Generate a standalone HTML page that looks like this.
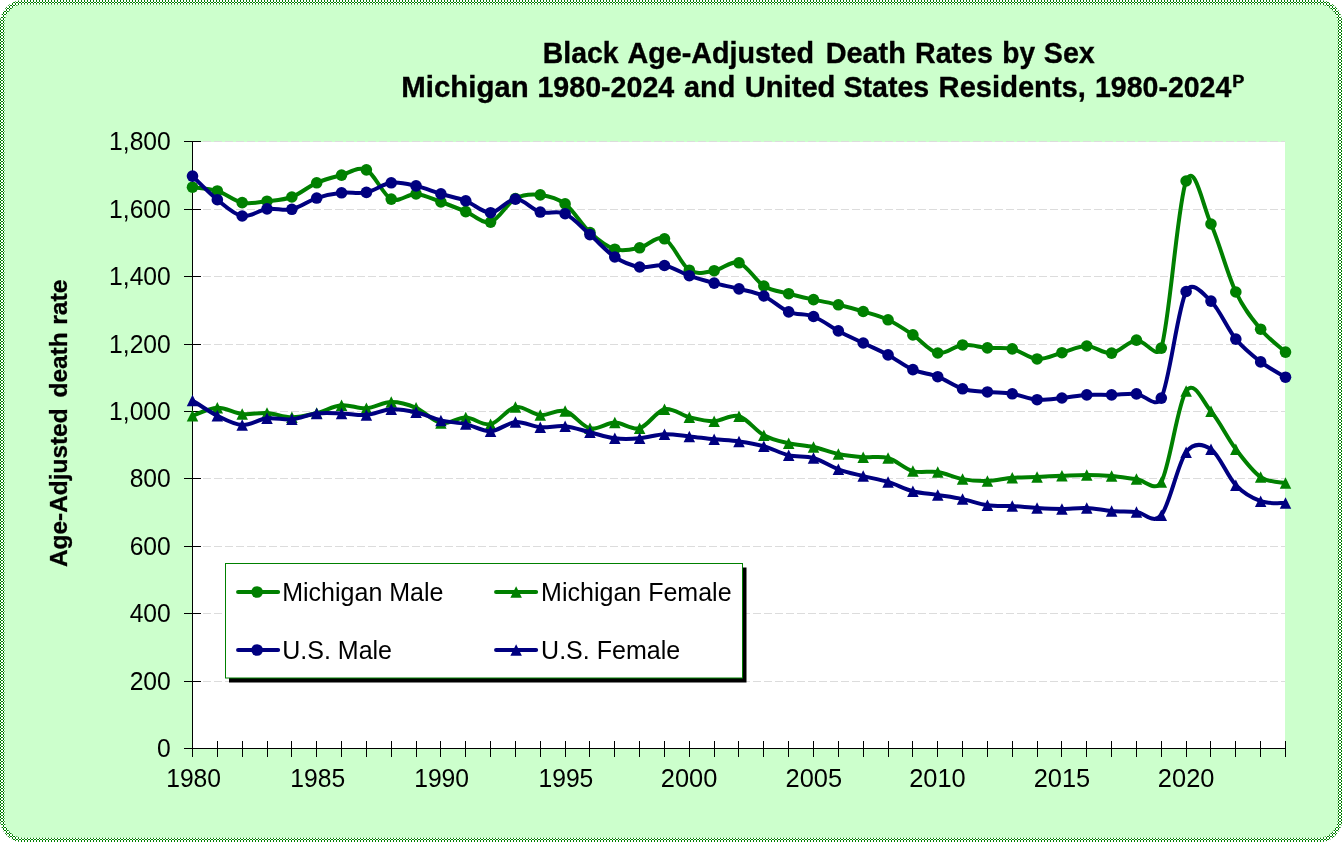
<!DOCTYPE html><html><head><meta charset="utf-8"><title>Black Age-Adjusted Death Rates by Sex</title>
<style>html,body{margin:0;padding:0;background:#fff;}body{width:1342px;height:842px;overflow:hidden;}svg{display:block;will-change:transform;}text{font-family:"Liberation Sans",sans-serif;fill:#000;}</style></head><body>
<svg width="1342" height="842" viewBox="0 0 1342 842">
<defs><pattern id="chk" x="0" y="0" width="3" height="3" patternUnits="userSpaceOnUse"><rect width="3" height="3" fill="#fff"/><rect x="0" y="0" width="1" height="2" fill="#008000" shape-rendering="crispEdges"/><rect x="1" y="2" width="2" height="1" fill="#008000" shape-rendering="crispEdges"/></pattern></defs>
<rect x="2.25" y="2.25" width="1337.75" height="837.75" rx="21" ry="21" fill="#CCFFCC" stroke="url(#chk)" stroke-width="4.5"/>
<rect x="193" y="142" width="1092" height="606" fill="#fff"/>
<line x1="203" y1="681.5" x2="1285" y2="681.5" stroke="#DCDCDC" stroke-width="1" stroke-dasharray="8 3"/>
<line x1="203" y1="613.5" x2="1285" y2="613.5" stroke="#DCDCDC" stroke-width="1" stroke-dasharray="8 3"/>
<line x1="203" y1="546.5" x2="1285" y2="546.5" stroke="#DCDCDC" stroke-width="1" stroke-dasharray="8 3"/>
<line x1="203" y1="478.5" x2="1285" y2="478.5" stroke="#DCDCDC" stroke-width="1" stroke-dasharray="8 3"/>
<line x1="203" y1="411.5" x2="1285" y2="411.5" stroke="#DCDCDC" stroke-width="1" stroke-dasharray="8 3"/>
<line x1="203" y1="344.5" x2="1285" y2="344.5" stroke="#DCDCDC" stroke-width="1" stroke-dasharray="8 3"/>
<line x1="203" y1="276.5" x2="1285" y2="276.5" stroke="#DCDCDC" stroke-width="1" stroke-dasharray="8 3"/>
<line x1="203" y1="209.5" x2="1285" y2="209.5" stroke="#DCDCDC" stroke-width="1" stroke-dasharray="8 3"/>
<line x1="203" y1="141.5" x2="1285" y2="141.5" stroke="#DCDCDC" stroke-width="1" stroke-dasharray="8 3"/>
<g stroke="#000" stroke-width="1" shape-rendering="crispEdges">
<line x1="192.5" y1="141" x2="192.5" y2="757"/>
<line x1="184" y1="748.5" x2="1286" y2="748.5"/>
<line x1="184" y1="681.5" x2="201" y2="681.5"/>
<line x1="184" y1="613.5" x2="201" y2="613.5"/>
<line x1="184" y1="546.5" x2="201" y2="546.5"/>
<line x1="184" y1="478.5" x2="201" y2="478.5"/>
<line x1="184" y1="411.5" x2="201" y2="411.5"/>
<line x1="184" y1="344.5" x2="201" y2="344.5"/>
<line x1="184" y1="276.5" x2="201" y2="276.5"/>
<line x1="184" y1="209.5" x2="201" y2="209.5"/>
<line x1="184" y1="141.5" x2="201" y2="141.5"/>
<line x1="217.5" y1="741" x2="217.5" y2="757"/>
<line x1="242.5" y1="741" x2="242.5" y2="757"/>
<line x1="267.5" y1="741" x2="267.5" y2="757"/>
<line x1="291.5" y1="741" x2="291.5" y2="757"/>
<line x1="316.5" y1="741" x2="316.5" y2="757"/>
<line x1="341.5" y1="741" x2="341.5" y2="757"/>
<line x1="366.5" y1="741" x2="366.5" y2="757"/>
<line x1="391.5" y1="741" x2="391.5" y2="757"/>
<line x1="416.5" y1="741" x2="416.5" y2="757"/>
<line x1="440.5" y1="741" x2="440.5" y2="757"/>
<line x1="465.5" y1="741" x2="465.5" y2="757"/>
<line x1="490.5" y1="741" x2="490.5" y2="757"/>
<line x1="515.5" y1="741" x2="515.5" y2="757"/>
<line x1="540.5" y1="741" x2="540.5" y2="757"/>
<line x1="565.5" y1="741" x2="565.5" y2="757"/>
<line x1="589.5" y1="741" x2="589.5" y2="757"/>
<line x1="614.5" y1="741" x2="614.5" y2="757"/>
<line x1="639.5" y1="741" x2="639.5" y2="757"/>
<line x1="664.5" y1="741" x2="664.5" y2="757"/>
<line x1="689.5" y1="741" x2="689.5" y2="757"/>
<line x1="714.5" y1="741" x2="714.5" y2="757"/>
<line x1="738.5" y1="741" x2="738.5" y2="757"/>
<line x1="763.5" y1="741" x2="763.5" y2="757"/>
<line x1="788.5" y1="741" x2="788.5" y2="757"/>
<line x1="813.5" y1="741" x2="813.5" y2="757"/>
<line x1="838.5" y1="741" x2="838.5" y2="757"/>
<line x1="863.5" y1="741" x2="863.5" y2="757"/>
<line x1="888.5" y1="741" x2="888.5" y2="757"/>
<line x1="912.5" y1="741" x2="912.5" y2="757"/>
<line x1="937.5" y1="741" x2="937.5" y2="757"/>
<line x1="962.5" y1="741" x2="962.5" y2="757"/>
<line x1="987.5" y1="741" x2="987.5" y2="757"/>
<line x1="1012.5" y1="741" x2="1012.5" y2="757"/>
<line x1="1037.5" y1="741" x2="1037.5" y2="757"/>
<line x1="1061.5" y1="741" x2="1061.5" y2="757"/>
<line x1="1086.5" y1="741" x2="1086.5" y2="757"/>
<line x1="1111.5" y1="741" x2="1111.5" y2="757"/>
<line x1="1136.5" y1="741" x2="1136.5" y2="757"/>
<line x1="1161.5" y1="741" x2="1161.5" y2="757"/>
<line x1="1186.5" y1="741" x2="1186.5" y2="757"/>
<line x1="1210.5" y1="741" x2="1210.5" y2="757"/>
<line x1="1235.5" y1="741" x2="1235.5" y2="757"/>
<line x1="1260.5" y1="741" x2="1260.5" y2="757"/>
<line x1="1285.5" y1="741" x2="1285.5" y2="757"/>
</g>
<path d="M192.50 187.20 C196.64 187.82 209.06 188.38 217.34 190.95 C225.62 193.52 233.90 200.94 242.18 202.65 C250.46 204.36 258.74 202.14 267.02 201.20 C275.30 200.26 283.58 200.07 291.86 197.00 C300.14 193.93 308.42 186.45 316.70 182.80 C324.98 179.15 333.27 177.26 341.55 175.10 C349.83 172.94 358.11 165.85 366.39 169.85 C374.67 173.85 382.95 195.09 391.23 199.10 C399.51 203.11 407.79 193.42 416.07 193.90 C424.35 194.38 432.63 199.05 440.91 202.00 C449.19 204.95 457.47 208.25 465.75 211.60 C474.03 214.95 482.31 224.28 490.59 222.10 C498.87 219.92 507.15 203.03 515.43 198.50 C523.71 193.97 531.99 194.00 540.27 194.90 C548.55 195.80 556.83 197.63 565.11 203.90 C573.39 210.17 581.67 224.95 589.95 232.50 C598.23 240.05 606.52 246.65 614.80 249.20 C623.08 251.75 631.36 249.53 639.64 247.80 C647.92 246.07 656.20 235.07 664.48 238.80 C672.76 242.53 681.04 264.88 689.32 270.20 C697.60 275.52 705.88 271.93 714.16 270.70 C722.44 269.47 730.72 260.25 739.00 262.80 C747.28 265.35 755.56 280.85 763.84 286.00 C772.12 291.15 780.40 291.43 788.68 293.70 C796.96 295.97 805.24 297.75 813.52 299.60 C821.80 301.45 830.08 302.82 838.36 304.80 C846.64 306.78 854.92 309.00 863.20 311.50 C871.48 314.00 879.77 315.90 888.05 319.80 C896.33 323.70 904.61 329.37 912.89 334.90 C921.17 340.43 929.45 351.32 937.73 353.00 C946.01 354.68 954.29 345.80 962.57 344.95 C970.85 344.10 979.13 347.24 987.41 347.90 C995.69 348.56 1003.97 347.06 1012.25 348.90 C1020.53 350.74 1028.81 358.32 1037.09 358.95 C1045.37 359.58 1053.65 354.86 1061.93 352.70 C1070.21 350.54 1078.49 345.93 1086.77 346.00 C1095.05 346.07 1103.33 354.08 1111.61 353.10 C1119.89 352.12 1128.17 340.98 1136.45 340.15 C1144.73 339.32 1157.41 360.55 1161.30 348.10 C1169.58 321.58 1177.86 201.68 1186.14 181.00 C1194.42 160.32 1202.70 205.50 1210.98 224.00 C1219.26 242.50 1227.54 274.47 1235.82 292.00 C1244.10 309.53 1252.38 319.18 1260.66 329.20 C1268.94 339.22 1281.36 348.28 1285.50 352.10" fill="none" stroke="#008000" stroke-width="4" stroke-linejoin="round" stroke-linecap="round"/>
<circle cx="192.50" cy="187.20" r="5.8" fill="#008000"/><circle cx="217.34" cy="190.95" r="5.8" fill="#008000"/><circle cx="242.18" cy="202.65" r="5.8" fill="#008000"/><circle cx="267.02" cy="201.20" r="5.8" fill="#008000"/><circle cx="291.86" cy="197.00" r="5.8" fill="#008000"/><circle cx="316.70" cy="182.80" r="5.8" fill="#008000"/><circle cx="341.55" cy="175.10" r="5.8" fill="#008000"/><circle cx="366.39" cy="169.85" r="5.8" fill="#008000"/><circle cx="391.23" cy="199.10" r="5.8" fill="#008000"/><circle cx="416.07" cy="193.90" r="5.8" fill="#008000"/><circle cx="440.91" cy="202.00" r="5.8" fill="#008000"/><circle cx="465.75" cy="211.60" r="5.8" fill="#008000"/><circle cx="490.59" cy="222.10" r="5.8" fill="#008000"/><circle cx="515.43" cy="198.50" r="5.8" fill="#008000"/><circle cx="540.27" cy="194.90" r="5.8" fill="#008000"/><circle cx="565.11" cy="203.90" r="5.8" fill="#008000"/><circle cx="589.95" cy="232.50" r="5.8" fill="#008000"/><circle cx="614.80" cy="249.20" r="5.8" fill="#008000"/><circle cx="639.64" cy="247.80" r="5.8" fill="#008000"/><circle cx="664.48" cy="238.80" r="5.8" fill="#008000"/><circle cx="689.32" cy="270.20" r="5.8" fill="#008000"/><circle cx="714.16" cy="270.70" r="5.8" fill="#008000"/><circle cx="739.00" cy="262.80" r="5.8" fill="#008000"/><circle cx="763.84" cy="286.00" r="5.8" fill="#008000"/><circle cx="788.68" cy="293.70" r="5.8" fill="#008000"/><circle cx="813.52" cy="299.60" r="5.8" fill="#008000"/><circle cx="838.36" cy="304.80" r="5.8" fill="#008000"/><circle cx="863.20" cy="311.50" r="5.8" fill="#008000"/><circle cx="888.05" cy="319.80" r="5.8" fill="#008000"/><circle cx="912.89" cy="334.90" r="5.8" fill="#008000"/><circle cx="937.73" cy="353.00" r="5.8" fill="#008000"/><circle cx="962.57" cy="344.95" r="5.8" fill="#008000"/><circle cx="987.41" cy="347.90" r="5.8" fill="#008000"/><circle cx="1012.25" cy="348.90" r="5.8" fill="#008000"/><circle cx="1037.09" cy="358.95" r="5.8" fill="#008000"/><circle cx="1061.93" cy="352.70" r="5.8" fill="#008000"/><circle cx="1086.77" cy="346.00" r="5.8" fill="#008000"/><circle cx="1111.61" cy="353.10" r="5.8" fill="#008000"/><circle cx="1136.45" cy="340.15" r="5.8" fill="#008000"/><circle cx="1161.30" cy="348.10" r="5.8" fill="#008000"/><circle cx="1186.14" cy="181.00" r="5.8" fill="#008000"/><circle cx="1210.98" cy="224.00" r="5.8" fill="#008000"/><circle cx="1235.82" cy="292.00" r="5.8" fill="#008000"/><circle cx="1260.66" cy="329.20" r="5.8" fill="#008000"/><circle cx="1285.50" cy="352.10" r="5.8" fill="#008000"/>
<path d="M192.50 415.80 C196.64 414.47 209.06 408.10 217.34 407.80 C225.62 407.50 233.90 413.13 242.18 414.00 C250.46 414.87 258.74 412.45 267.02 413.00 C275.30 413.55 283.58 417.30 291.86 417.30 C300.14 417.30 308.42 415.00 316.70 413.00 C324.98 411.00 333.27 406.08 341.55 405.30 C349.83 404.52 358.11 408.85 366.39 408.30 C374.67 407.75 382.95 402.08 391.23 402.00 C399.51 401.92 407.79 404.30 416.07 407.80 C424.35 411.30 432.63 421.37 440.91 423.00 C449.19 424.63 457.47 417.40 465.75 417.60 C474.03 417.80 482.31 425.97 490.59 424.20 C498.87 422.43 507.15 408.52 515.43 407.00 C523.71 405.48 531.99 414.43 540.27 415.10 C548.55 415.77 556.83 408.80 565.11 411.00 C573.39 413.20 581.67 426.38 589.95 428.30 C598.23 430.22 606.52 422.52 614.80 422.50 C623.08 422.48 631.36 430.42 639.64 428.20 C647.92 425.98 656.20 411.03 664.48 409.20 C672.76 407.37 681.04 415.20 689.32 417.20 C697.60 419.20 705.88 421.37 714.16 421.20 C722.44 421.03 730.72 413.87 739.00 416.20 C747.28 418.53 755.56 430.70 763.84 435.20 C772.12 439.70 780.40 441.23 788.68 443.20 C796.96 445.17 805.24 445.20 813.52 447.00 C821.80 448.80 830.08 452.30 838.36 454.00 C846.64 455.70 854.92 456.53 863.20 457.20 C871.48 457.87 879.77 455.68 888.05 458.00 C896.33 460.32 904.61 468.77 912.89 471.10 C921.17 473.43 929.45 470.67 937.73 472.00 C946.01 473.33 954.29 477.60 962.57 479.10 C970.85 480.60 979.13 481.22 987.41 481.00 C995.69 480.78 1003.97 478.48 1012.25 477.80 C1020.53 477.12 1028.81 477.23 1037.09 476.90 C1045.37 476.57 1053.65 476.13 1061.93 475.80 C1070.21 475.47 1078.49 474.85 1086.77 474.90 C1095.05 474.95 1103.33 475.40 1111.61 476.10 C1119.89 476.80 1128.17 478.13 1136.45 479.10 C1144.73 480.07 1155.15 492.78 1161.30 481.90 C1169.58 467.23 1177.86 402.87 1186.14 391.10 C1194.42 379.33 1202.70 401.62 1210.98 411.30 C1219.26 420.98 1227.54 438.19 1235.82 449.15 C1244.10 460.11 1252.38 471.41 1260.66 477.05 C1268.94 482.69 1281.36 482.01 1285.50 483.00" fill="none" stroke="#008000" stroke-width="4" stroke-linejoin="round" stroke-linecap="round"/>
<path d="M192.50 410.05 L186.75 421.55 L198.25 421.55 Z" fill="#008000"/><path d="M217.34 402.05 L211.59 413.55 L223.09 413.55 Z" fill="#008000"/><path d="M242.18 408.25 L236.43 419.75 L247.93 419.75 Z" fill="#008000"/><path d="M267.02 407.25 L261.27 418.75 L272.77 418.75 Z" fill="#008000"/><path d="M291.86 411.55 L286.11 423.05 L297.61 423.05 Z" fill="#008000"/><path d="M316.70 407.25 L310.95 418.75 L322.45 418.75 Z" fill="#008000"/><path d="M341.55 399.55 L335.80 411.05 L347.30 411.05 Z" fill="#008000"/><path d="M366.39 402.55 L360.64 414.05 L372.14 414.05 Z" fill="#008000"/><path d="M391.23 396.25 L385.48 407.75 L396.98 407.75 Z" fill="#008000"/><path d="M416.07 402.05 L410.32 413.55 L421.82 413.55 Z" fill="#008000"/><path d="M440.91 417.25 L435.16 428.75 L446.66 428.75 Z" fill="#008000"/><path d="M465.75 411.85 L460.00 423.35 L471.50 423.35 Z" fill="#008000"/><path d="M490.59 418.45 L484.84 429.95 L496.34 429.95 Z" fill="#008000"/><path d="M515.43 401.25 L509.68 412.75 L521.18 412.75 Z" fill="#008000"/><path d="M540.27 409.35 L534.52 420.85 L546.02 420.85 Z" fill="#008000"/><path d="M565.11 405.25 L559.36 416.75 L570.86 416.75 Z" fill="#008000"/><path d="M589.95 422.55 L584.20 434.05 L595.70 434.05 Z" fill="#008000"/><path d="M614.80 416.75 L609.05 428.25 L620.55 428.25 Z" fill="#008000"/><path d="M639.64 422.45 L633.89 433.95 L645.39 433.95 Z" fill="#008000"/><path d="M664.48 403.45 L658.73 414.95 L670.23 414.95 Z" fill="#008000"/><path d="M689.32 411.45 L683.57 422.95 L695.07 422.95 Z" fill="#008000"/><path d="M714.16 415.45 L708.41 426.95 L719.91 426.95 Z" fill="#008000"/><path d="M739.00 410.45 L733.25 421.95 L744.75 421.95 Z" fill="#008000"/><path d="M763.84 429.45 L758.09 440.95 L769.59 440.95 Z" fill="#008000"/><path d="M788.68 437.45 L782.93 448.95 L794.43 448.95 Z" fill="#008000"/><path d="M813.52 441.25 L807.77 452.75 L819.27 452.75 Z" fill="#008000"/><path d="M838.36 448.25 L832.61 459.75 L844.11 459.75 Z" fill="#008000"/><path d="M863.20 451.45 L857.45 462.95 L868.95 462.95 Z" fill="#008000"/><path d="M888.05 452.25 L882.30 463.75 L893.80 463.75 Z" fill="#008000"/><path d="M912.89 465.35 L907.14 476.85 L918.64 476.85 Z" fill="#008000"/><path d="M937.73 466.25 L931.98 477.75 L943.48 477.75 Z" fill="#008000"/><path d="M962.57 473.35 L956.82 484.85 L968.32 484.85 Z" fill="#008000"/><path d="M987.41 475.25 L981.66 486.75 L993.16 486.75 Z" fill="#008000"/><path d="M1012.25 472.05 L1006.50 483.55 L1018.00 483.55 Z" fill="#008000"/><path d="M1037.09 471.15 L1031.34 482.65 L1042.84 482.65 Z" fill="#008000"/><path d="M1061.93 470.05 L1056.18 481.55 L1067.68 481.55 Z" fill="#008000"/><path d="M1086.77 469.15 L1081.02 480.65 L1092.52 480.65 Z" fill="#008000"/><path d="M1111.61 470.35 L1105.86 481.85 L1117.36 481.85 Z" fill="#008000"/><path d="M1136.45 473.35 L1130.70 484.85 L1142.20 484.85 Z" fill="#008000"/><path d="M1161.30 476.15 L1155.55 487.65 L1167.05 487.65 Z" fill="#008000"/><path d="M1186.14 385.35 L1180.39 396.85 L1191.89 396.85 Z" fill="#008000"/><path d="M1210.98 405.55 L1205.23 417.05 L1216.73 417.05 Z" fill="#008000"/><path d="M1235.82 443.40 L1230.07 454.90 L1241.57 454.90 Z" fill="#008000"/><path d="M1260.66 471.30 L1254.91 482.80 L1266.41 482.80 Z" fill="#008000"/><path d="M1285.50 477.25 L1279.75 488.75 L1291.25 488.75 Z" fill="#008000"/>
<path d="M192.50 176.10 C196.64 180.03 209.06 193.05 217.34 199.70 C225.62 206.35 233.90 214.47 242.18 216.00 C250.46 217.53 258.74 210.02 267.02 208.90 C275.30 207.78 283.58 211.11 291.86 209.30 C300.14 207.49 308.42 200.80 316.70 198.05 C324.98 195.30 333.27 193.74 341.55 192.80 C349.83 191.86 358.11 194.07 366.39 192.40 C374.67 190.73 382.95 183.88 391.23 182.80 C399.51 181.72 407.79 184.05 416.07 185.90 C424.35 187.75 432.63 191.42 440.91 193.90 C449.19 196.38 457.47 197.67 465.75 200.80 C474.03 203.93 482.31 212.98 490.59 212.70 C498.87 212.42 507.15 199.21 515.43 199.10 C523.71 198.99 531.99 209.62 540.27 212.05 C548.55 214.48 556.83 209.94 565.11 213.70 C573.39 217.46 581.67 227.38 589.95 234.60 C598.23 241.82 606.52 251.60 614.80 257.00 C623.08 262.40 631.36 265.58 639.64 267.00 C647.92 268.42 656.20 264.05 664.48 265.50 C672.76 266.95 681.04 272.77 689.32 275.70 C697.60 278.63 705.88 280.90 714.16 283.10 C722.44 285.30 730.72 286.75 739.00 288.90 C747.28 291.05 755.56 292.17 763.84 296.00 C772.12 299.83 780.40 308.48 788.68 311.90 C796.96 315.32 805.24 313.33 813.52 316.50 C821.80 319.67 830.08 326.48 838.36 330.90 C846.64 335.32 854.92 339.00 863.20 343.00 C871.48 347.00 879.77 350.47 888.05 354.90 C896.33 359.33 904.61 365.97 912.89 369.60 C921.17 373.23 929.45 373.50 937.73 376.70 C946.01 379.90 954.29 386.26 962.57 388.80 C970.85 391.34 979.13 391.13 987.41 391.96 C995.69 392.79 1003.97 392.51 1012.25 393.80 C1020.53 395.09 1028.81 399.00 1037.09 399.70 C1045.37 400.40 1053.65 398.80 1061.93 398.00 C1070.21 397.20 1078.49 395.42 1086.77 394.90 C1095.05 394.38 1103.33 395.07 1111.61 394.90 C1119.89 394.73 1128.17 393.37 1136.45 393.90 C1144.73 394.43 1155.80 409.43 1161.30 398.10 C1169.58 381.03 1177.86 307.67 1186.14 291.50 C1192.21 279.65 1202.70 293.17 1210.98 301.10 C1219.26 309.03 1227.54 328.97 1235.82 339.10 C1244.10 349.23 1252.38 355.55 1260.66 361.90 C1268.94 368.25 1281.36 374.65 1285.50 377.20" fill="none" stroke="#000080" stroke-width="4" stroke-linejoin="round" stroke-linecap="round"/>
<circle cx="192.50" cy="176.10" r="5.8" fill="#000080"/><circle cx="217.34" cy="199.70" r="5.8" fill="#000080"/><circle cx="242.18" cy="216.00" r="5.8" fill="#000080"/><circle cx="267.02" cy="208.90" r="5.8" fill="#000080"/><circle cx="291.86" cy="209.30" r="5.8" fill="#000080"/><circle cx="316.70" cy="198.05" r="5.8" fill="#000080"/><circle cx="341.55" cy="192.80" r="5.8" fill="#000080"/><circle cx="366.39" cy="192.40" r="5.8" fill="#000080"/><circle cx="391.23" cy="182.80" r="5.8" fill="#000080"/><circle cx="416.07" cy="185.90" r="5.8" fill="#000080"/><circle cx="440.91" cy="193.90" r="5.8" fill="#000080"/><circle cx="465.75" cy="200.80" r="5.8" fill="#000080"/><circle cx="490.59" cy="212.70" r="5.8" fill="#000080"/><circle cx="515.43" cy="199.10" r="5.8" fill="#000080"/><circle cx="540.27" cy="212.05" r="5.8" fill="#000080"/><circle cx="565.11" cy="213.70" r="5.8" fill="#000080"/><circle cx="589.95" cy="234.60" r="5.8" fill="#000080"/><circle cx="614.80" cy="257.00" r="5.8" fill="#000080"/><circle cx="639.64" cy="267.00" r="5.8" fill="#000080"/><circle cx="664.48" cy="265.50" r="5.8" fill="#000080"/><circle cx="689.32" cy="275.70" r="5.8" fill="#000080"/><circle cx="714.16" cy="283.10" r="5.8" fill="#000080"/><circle cx="739.00" cy="288.90" r="5.8" fill="#000080"/><circle cx="763.84" cy="296.00" r="5.8" fill="#000080"/><circle cx="788.68" cy="311.90" r="5.8" fill="#000080"/><circle cx="813.52" cy="316.50" r="5.8" fill="#000080"/><circle cx="838.36" cy="330.90" r="5.8" fill="#000080"/><circle cx="863.20" cy="343.00" r="5.8" fill="#000080"/><circle cx="888.05" cy="354.90" r="5.8" fill="#000080"/><circle cx="912.89" cy="369.60" r="5.8" fill="#000080"/><circle cx="937.73" cy="376.70" r="5.8" fill="#000080"/><circle cx="962.57" cy="388.80" r="5.8" fill="#000080"/><circle cx="987.41" cy="391.96" r="5.8" fill="#000080"/><circle cx="1012.25" cy="393.80" r="5.8" fill="#000080"/><circle cx="1037.09" cy="399.70" r="5.8" fill="#000080"/><circle cx="1061.93" cy="398.00" r="5.8" fill="#000080"/><circle cx="1086.77" cy="394.90" r="5.8" fill="#000080"/><circle cx="1111.61" cy="394.90" r="5.8" fill="#000080"/><circle cx="1136.45" cy="393.90" r="5.8" fill="#000080"/><circle cx="1161.30" cy="398.10" r="5.8" fill="#000080"/><circle cx="1186.14" cy="291.50" r="5.8" fill="#000080"/><circle cx="1210.98" cy="301.10" r="5.8" fill="#000080"/><circle cx="1235.82" cy="339.10" r="5.8" fill="#000080"/><circle cx="1260.66" cy="361.90" r="5.8" fill="#000080"/><circle cx="1285.50" cy="377.20" r="5.8" fill="#000080"/>
<path d="M192.50 400.40 C196.64 402.97 209.06 411.70 217.34 415.80 C225.62 419.90 233.90 424.58 242.18 425.00 C250.46 425.42 258.74 419.25 267.02 418.30 C275.30 417.35 283.58 420.12 291.86 419.30 C300.14 418.48 308.42 414.38 316.70 413.40 C324.98 412.42 333.27 413.13 341.55 413.40 C349.83 413.67 358.11 415.69 366.39 415.00 C374.67 414.31 382.95 409.70 391.23 409.25 C399.51 408.80 407.79 410.44 416.07 412.30 C424.35 414.16 432.63 418.43 440.91 420.40 C449.19 422.37 457.47 422.30 465.75 424.10 C474.03 425.90 482.31 431.53 490.59 431.20 C498.87 430.87 507.15 422.77 515.43 422.10 C523.71 421.43 531.99 426.52 540.27 427.20 C548.55 427.88 556.83 425.36 565.11 426.20 C573.39 427.04 581.67 430.23 589.95 432.25 C598.23 434.27 606.52 437.29 614.80 438.30 C623.08 439.31 631.36 438.98 639.64 438.30 C647.92 437.62 656.20 434.52 664.48 434.20 C672.76 433.88 681.04 435.55 689.32 436.40 C697.60 437.25 705.88 438.47 714.16 439.30 C722.44 440.13 730.72 440.25 739.00 441.40 C747.28 442.55 755.56 443.89 763.84 446.20 C772.12 448.51 780.40 453.28 788.68 455.25 C796.96 457.22 805.24 455.66 813.52 458.00 C821.80 460.34 830.08 466.28 838.36 469.30 C846.64 472.32 854.92 474.00 863.20 476.10 C871.48 478.20 879.77 479.38 888.05 481.90 C896.33 484.42 904.61 489.02 912.89 491.20 C921.17 493.38 929.45 493.68 937.73 495.00 C946.01 496.32 954.29 497.40 962.57 499.10 C970.85 500.80 979.13 504.03 987.41 505.20 C995.69 506.37 1003.97 505.63 1012.25 506.10 C1020.53 506.57 1028.81 507.53 1037.09 508.00 C1045.37 508.47 1053.65 508.90 1061.93 508.90 C1070.21 508.90 1078.49 507.65 1086.77 508.00 C1095.05 508.35 1103.33 510.32 1111.61 511.00 C1119.89 511.68 1128.17 511.41 1136.45 512.10 C1144.73 512.79 1153.31 524.79 1161.30 515.15 C1169.58 505.16 1177.86 463.15 1186.14 452.15 C1193.66 442.15 1202.70 443.64 1210.98 449.15 C1219.26 454.66 1227.54 476.52 1235.82 485.20 C1244.10 493.88 1252.38 498.22 1260.66 501.20 C1268.94 504.18 1281.36 502.78 1285.50 503.10" fill="none" stroke="#000080" stroke-width="4" stroke-linejoin="round" stroke-linecap="round"/>
<path d="M192.50 394.65 L186.75 406.15 L198.25 406.15 Z" fill="#000080"/><path d="M217.34 410.05 L211.59 421.55 L223.09 421.55 Z" fill="#000080"/><path d="M242.18 419.25 L236.43 430.75 L247.93 430.75 Z" fill="#000080"/><path d="M267.02 412.55 L261.27 424.05 L272.77 424.05 Z" fill="#000080"/><path d="M291.86 413.55 L286.11 425.05 L297.61 425.05 Z" fill="#000080"/><path d="M316.70 407.65 L310.95 419.15 L322.45 419.15 Z" fill="#000080"/><path d="M341.55 407.65 L335.80 419.15 L347.30 419.15 Z" fill="#000080"/><path d="M366.39 409.25 L360.64 420.75 L372.14 420.75 Z" fill="#000080"/><path d="M391.23 403.50 L385.48 415.00 L396.98 415.00 Z" fill="#000080"/><path d="M416.07 406.55 L410.32 418.05 L421.82 418.05 Z" fill="#000080"/><path d="M440.91 414.65 L435.16 426.15 L446.66 426.15 Z" fill="#000080"/><path d="M465.75 418.35 L460.00 429.85 L471.50 429.85 Z" fill="#000080"/><path d="M490.59 425.45 L484.84 436.95 L496.34 436.95 Z" fill="#000080"/><path d="M515.43 416.35 L509.68 427.85 L521.18 427.85 Z" fill="#000080"/><path d="M540.27 421.45 L534.52 432.95 L546.02 432.95 Z" fill="#000080"/><path d="M565.11 420.45 L559.36 431.95 L570.86 431.95 Z" fill="#000080"/><path d="M589.95 426.50 L584.20 438.00 L595.70 438.00 Z" fill="#000080"/><path d="M614.80 432.55 L609.05 444.05 L620.55 444.05 Z" fill="#000080"/><path d="M639.64 432.55 L633.89 444.05 L645.39 444.05 Z" fill="#000080"/><path d="M664.48 428.45 L658.73 439.95 L670.23 439.95 Z" fill="#000080"/><path d="M689.32 430.65 L683.57 442.15 L695.07 442.15 Z" fill="#000080"/><path d="M714.16 433.55 L708.41 445.05 L719.91 445.05 Z" fill="#000080"/><path d="M739.00 435.65 L733.25 447.15 L744.75 447.15 Z" fill="#000080"/><path d="M763.84 440.45 L758.09 451.95 L769.59 451.95 Z" fill="#000080"/><path d="M788.68 449.50 L782.93 461.00 L794.43 461.00 Z" fill="#000080"/><path d="M813.52 452.25 L807.77 463.75 L819.27 463.75 Z" fill="#000080"/><path d="M838.36 463.55 L832.61 475.05 L844.11 475.05 Z" fill="#000080"/><path d="M863.20 470.35 L857.45 481.85 L868.95 481.85 Z" fill="#000080"/><path d="M888.05 476.15 L882.30 487.65 L893.80 487.65 Z" fill="#000080"/><path d="M912.89 485.45 L907.14 496.95 L918.64 496.95 Z" fill="#000080"/><path d="M937.73 489.25 L931.98 500.75 L943.48 500.75 Z" fill="#000080"/><path d="M962.57 493.35 L956.82 504.85 L968.32 504.85 Z" fill="#000080"/><path d="M987.41 499.45 L981.66 510.95 L993.16 510.95 Z" fill="#000080"/><path d="M1012.25 500.35 L1006.50 511.85 L1018.00 511.85 Z" fill="#000080"/><path d="M1037.09 502.25 L1031.34 513.75 L1042.84 513.75 Z" fill="#000080"/><path d="M1061.93 503.15 L1056.18 514.65 L1067.68 514.65 Z" fill="#000080"/><path d="M1086.77 502.25 L1081.02 513.75 L1092.52 513.75 Z" fill="#000080"/><path d="M1111.61 505.25 L1105.86 516.75 L1117.36 516.75 Z" fill="#000080"/><path d="M1136.45 506.35 L1130.70 517.85 L1142.20 517.85 Z" fill="#000080"/><path d="M1161.30 509.40 L1155.55 520.90 L1167.05 520.90 Z" fill="#000080"/><path d="M1186.14 446.40 L1180.39 457.90 L1191.89 457.90 Z" fill="#000080"/><path d="M1210.98 443.40 L1205.23 454.90 L1216.73 454.90 Z" fill="#000080"/><path d="M1235.82 479.45 L1230.07 490.95 L1241.57 490.95 Z" fill="#000080"/><path d="M1260.66 495.45 L1254.91 506.95 L1266.41 506.95 Z" fill="#000080"/><path d="M1285.50 497.35 L1279.75 508.85 L1291.25 508.85 Z" fill="#000080"/>
<text transform="translate(170.80 756.90) scale(1 1.050)" font-size="24.67" text-anchor="end">0</text>
<text transform="translate(170.80 689.90) scale(1 1.050)" font-size="24.67" text-anchor="end">200</text>
<text transform="translate(170.80 621.90) scale(1 1.050)" font-size="24.67" text-anchor="end">400</text>
<text transform="translate(170.80 554.90) scale(1 1.050)" font-size="24.67" text-anchor="end">600</text>
<text transform="translate(170.80 486.90) scale(1 1.050)" font-size="24.67" text-anchor="end">800</text>
<text transform="translate(170.80 419.90) scale(1 1.050)" font-size="24.67" text-anchor="end">1,000</text>
<text transform="translate(170.80 352.90) scale(1 1.050)" font-size="24.67" text-anchor="end">1,200</text>
<text transform="translate(170.80 284.90) scale(1 1.050)" font-size="24.67" text-anchor="end">1,400</text>
<text transform="translate(170.80 217.90) scale(1 1.050)" font-size="24.67" text-anchor="end">1,600</text>
<text transform="translate(170.80 149.90) scale(1 1.050)" font-size="24.67" text-anchor="end">1,800</text>
<text transform="translate(166.16 787.00) scale(1 1.050)" font-size="24.67" textLength="54.88" lengthAdjust="spacingAndGlyphs">1980</text>
<text transform="translate(290.36 787.00) scale(1 1.050)" font-size="24.67" textLength="54.88" lengthAdjust="spacingAndGlyphs">1985</text>
<text transform="translate(414.17 787.00) scale(1 1.050)" font-size="24.67" textLength="54.88" lengthAdjust="spacingAndGlyphs">1990</text>
<text transform="translate(538.47 787.00) scale(1 1.050)" font-size="24.67" textLength="54.88" lengthAdjust="spacingAndGlyphs">1995</text>
<text transform="translate(660.80 787.00) scale(1 1.050)" font-size="24.67" textLength="56.53" lengthAdjust="spacingAndGlyphs">2000</text>
<text transform="translate(785.61 787.00) scale(1 1.050)" font-size="24.67" textLength="56.53" lengthAdjust="spacingAndGlyphs">2005</text>
<text transform="translate(909.21 787.00) scale(1 1.050)" font-size="24.67" textLength="56.53" lengthAdjust="spacingAndGlyphs">2010</text>
<text transform="translate(1033.67 787.00) scale(1 1.050)" font-size="24.67" textLength="56.53" lengthAdjust="spacingAndGlyphs">2015</text>
<text transform="translate(1157.87 787.00) scale(1 1.050)" font-size="24.67" textLength="56.53" lengthAdjust="spacingAndGlyphs">2020</text>
<text transform="translate(542.76 62.80) scale(1 1.030)" font-size="29.00" font-weight="bold" stroke="#000" stroke-width="0.35" textLength="75.74" lengthAdjust="spacingAndGlyphs">Black</text>
<text transform="translate(627.60 62.80) scale(1 1.030)" font-size="29.00" font-weight="bold" stroke="#000" stroke-width="0.35" textLength="186.50" lengthAdjust="spacingAndGlyphs">Age-Adjusted</text>
<text transform="translate(825.65 62.80) scale(1 1.030)" font-size="29.00" font-weight="bold" stroke="#000" stroke-width="0.35" textLength="80.15" lengthAdjust="spacingAndGlyphs">Death</text>
<text transform="translate(915.09 62.80) scale(1 1.030)" font-size="29.00" font-weight="bold" stroke="#000" stroke-width="0.35" textLength="77.81" lengthAdjust="spacingAndGlyphs">Rates</text>
<text transform="translate(1002.24 62.80) scale(1 1.030)" font-size="29.00" font-weight="bold" stroke="#000" stroke-width="0.35" textLength="32.77" lengthAdjust="spacingAndGlyphs">by</text>
<text transform="translate(1043.79 62.80) scale(1 1.030)" font-size="29.00" font-weight="bold" stroke="#000" stroke-width="0.35" textLength="51.00" lengthAdjust="spacingAndGlyphs">Sex</text>
<text transform="translate(401.28 96.80) scale(1 1.030)" font-size="29.00" font-weight="bold" stroke="#000" stroke-width="0.35" textLength="127.37" lengthAdjust="spacingAndGlyphs">Michigan</text>
<text transform="translate(537.41 96.80) scale(1 1.030)" font-size="29.00" font-weight="bold" stroke="#000" stroke-width="0.35" textLength="136.88" lengthAdjust="spacingAndGlyphs">1980-2024</text>
<text transform="translate(684.10 96.80) scale(1 1.030)" font-size="29.00" font-weight="bold" stroke="#000" stroke-width="0.35" textLength="51.20" lengthAdjust="spacingAndGlyphs">and</text>
<text transform="translate(744.68 96.80) scale(1 1.030)" font-size="29.00" font-weight="bold" stroke="#000" stroke-width="0.35" textLength="90.74" lengthAdjust="spacingAndGlyphs">United</text>
<text transform="translate(843.41 96.80) scale(1 1.030)" font-size="29.00" font-weight="bold" stroke="#000" stroke-width="0.35" textLength="85.78" lengthAdjust="spacingAndGlyphs">States</text>
<text transform="translate(938.59 96.80) scale(1 1.030)" font-size="29.00" font-weight="bold" stroke="#000" stroke-width="0.35" textLength="147.33" lengthAdjust="spacingAndGlyphs">Residents,</text>
<text transform="translate(1095.01 96.80) scale(1 1.030)" font-size="29.00" font-weight="bold" stroke="#000" stroke-width="0.35" textLength="136.29" lengthAdjust="spacingAndGlyphs">1980-2024</text>
<text transform="translate(1232.20 86.90) scale(1 1.030)" font-size="16.20" font-weight="bold" stroke="#000" stroke-width="0.35" textLength="12.10" lengthAdjust="spacingAndGlyphs">P</text>
<text transform="translate(67.1 567.00) rotate(-90) scale(1 1.000)" font-size="24.67" font-weight="bold" stroke="#000" stroke-width="0.3" textLength="158.54" lengthAdjust="spacingAndGlyphs">Age-Adjusted</text>
<text transform="translate(67.1 397.50) rotate(-90) scale(1 1.000)" font-size="24.67" font-weight="bold" stroke="#000" stroke-width="0.3" textLength="65.14" lengthAdjust="spacingAndGlyphs">death</text>
<text transform="translate(67.1 324.80) rotate(-90) scale(1 1.000)" font-size="24.67" font-weight="bold" stroke="#000" stroke-width="0.3" textLength="45.26" lengthAdjust="spacingAndGlyphs">rate</text>
<rect x="229" y="567.5" width="517.5" height="115" fill="#000"/>
<rect x="225.5" y="563.5" width="517" height="114.5" fill="#fff" stroke="#008000" stroke-width="1"/>
<line x1="238.10" y1="592.0" x2="278.10" y2="592.0" stroke="#008000" stroke-width="4.1" stroke-linecap="round"/><circle cx="257.1" cy="592.0" r="5.85" fill="#008000"/><text transform="translate(282.20 600.90) scale(1 1.030)" font-size="24.67" textLength="161.28" lengthAdjust="spacingAndGlyphs">Michigan Male</text>
<line x1="496.10" y1="592.0" x2="536.10" y2="592.0" stroke="#008000" stroke-width="4.1" stroke-linecap="round"/><path d="M516.10 586.25 L510.35 597.75 L521.85 597.75 Z" fill="#008000"/><text transform="translate(541.10 600.90) scale(1 1.030)" font-size="24.67" textLength="190.47" lengthAdjust="spacingAndGlyphs">Michigan Female</text>
<line x1="238.10" y1="650.0" x2="278.10" y2="650.0" stroke="#000080" stroke-width="4.1" stroke-linecap="round"/><circle cx="257.1" cy="650.0" r="5.85" fill="#000080"/><text transform="translate(282.20 658.90) scale(1 1.030)" font-size="24.67" textLength="109.82" lengthAdjust="spacingAndGlyphs">U.S. Male</text>
<line x1="496.10" y1="650.0" x2="536.10" y2="650.0" stroke="#000080" stroke-width="4.1" stroke-linecap="round"/><path d="M516.10 644.25 L510.35 655.75 L521.85 655.75 Z" fill="#000080"/><text transform="translate(541.10 658.90) scale(1 1.030)" font-size="24.67" textLength="139.02" lengthAdjust="spacingAndGlyphs">U.S. Female</text>
</svg></body></html>
